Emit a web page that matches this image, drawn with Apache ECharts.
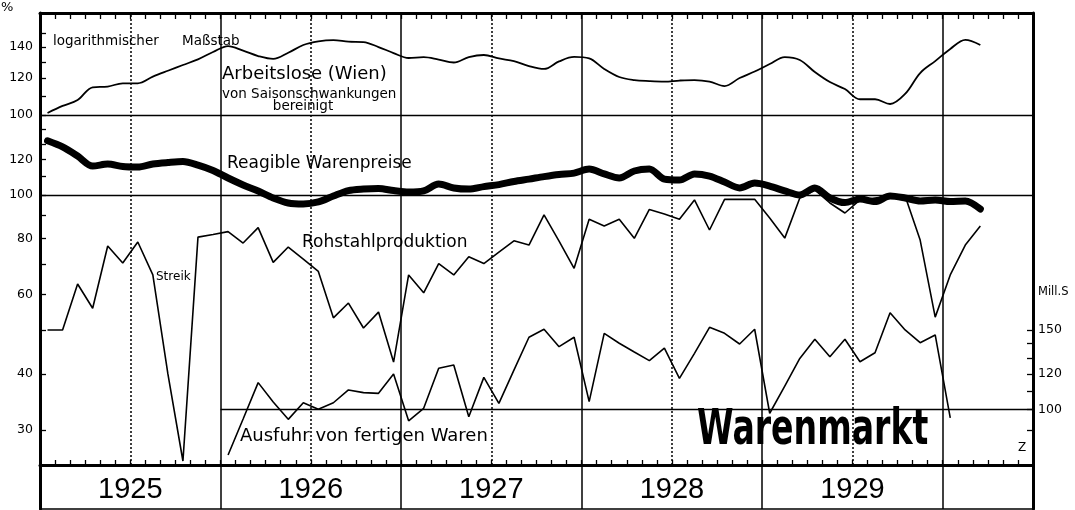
<!DOCTYPE html>
<html><head><meta charset="utf-8">
<script src="https://cdn.jsdelivr.net/npm/echarts@6/dist/echarts.min.js"></script>
<style>html,body{margin:0;padding:0;background:#fff}#c{width:1075px;height:510px}</style>
</head><body><div id="c"></div>
<script>
// ---- data (monthly, Jan 1925 onward) ----
const years = ['1925', '1926', '1927', '1928', '1929'];
const monthCount = 66; // Jan 1925 .. Jun 1930

// Arbeitslose (Wien), von Saisonschwankungen bereinigt (%)
const arbeitslose = [101, 104.6, 107.7, 114.7, 115.1, 117, 117, 120.9, 124.5, 128.1, 131.7, 136.6,
  140.7, 137.5, 133.9, 132, 136.1, 141.4, 144, 144.9, 143.8, 143.5, 140, 135.9,
  132.6, 133.2, 131.6, 129.7, 133.2, 134.6, 132.3, 130.6, 127.4, 125.6, 130.4, 133.3,
  132.3, 125.6, 120.7, 118.9, 118.3, 118, 118.6, 118.9, 118, 115.4, 120.1, 124,
  128.7, 133.2, 131.3, 123.7, 117.7, 113.7, 108.1, 108.1, 105.6, 111, 123.1, 130.6,
  138.7, 145, 141.4];

// Reagible Warenpreise (%)
const warenpreise = [132, 127.9, 122.1, 116, 117.2, 115.7, 115.4, 117.2, 118.1, 118.7, 116.6, 113.4,
  109.1, 105.3, 102.1, 98.5, 96, 95.5, 96.5, 99.5, 102.3, 103.1, 103.4, 102.3,
  101.5, 102.1, 105.8, 103.7, 103.1, 104.4, 105.5, 107.2, 108.5, 109.9, 111.1, 111.9,
  114.2, 111.4, 109.1, 113.1, 114.2, 108.5, 108, 111.4, 110.2, 106.9, 103.7, 106.3,
  104.7, 102.1, 100, 103.7, 98.5, 96.2, 98, 96.7, 99.5, 98.5, 97, 97.5,
  96.7, 97, 93.1];

// Rohstahlproduktion (%)
const rohstahl = [50.1, 50.1, 63.4, 56, 77, 70.6, 78.6, 66.4, 40, 25.6, 80.6, 81.7,
  82.9, 78.2, 84.6, 70.8, 76.6, 72, 67.6, 53.3, 57.5, 50.6, 54.9, 42.5,
  66.4, 60.6, 70.4, 66.4, 72.9, 70.4, 74.6, 79.1, 77.4, 90.3, 79, 68.7,
  88.3, 85.3, 88.3, 80.1, 92.9, 90.7, 88.3, 97.5, 83.6, 97.8, 97.8, 97.8,
  88.9, 80.2, 98.5, 102.6, 96, 91.2, 97.5, 98.5, 99.5, 99.5, 79.4, 53.5,
  66.4, 77.4, 85.3];

// Ausfuhr von fertigen Waren (Mill. S)
const ausfuhr = [null, null, null, null, null, null, null, null, null, null, null, null,
  79.3, 95.3, 114.7, 103.9, 95.1, 103.5, 100.1, 103.5, 110.5, 109, 108.6, 119.9,
  94.4, 100.6, 123.4, 125.5, 96.4, 117.8, 103.2, 122.3, 144.6, 150.6, 137.8, 144.6,
  104.1, 147.5, 140.2, 134.1, 128.3, 136.7, 117.2, 133.2, 152.1, 147.5, 139.7, 150.6,
  98.1, 112.7, 129.8, 143.1, 130.9, 143.1, 127.6, 133.6, 163.9, 150.1, 140.6, 146.3,
  95.8];

// tick / label values of the log scales
const leftLowerTicks = [30, 40, 50, 60, 70, 80, 90, 100, 110, 120, 130, 140];
const leftLowerLabels = [30, 40, 60, 80, 100, 120];
const leftUpperTicks = [100, 110, 120, 130, 140, 150];
const leftUpperLabels = [100, 120, 140];
const rightTicks = [90, 100, 110, 120, 130, 140, 150];
const rightLabels = [100, 120, 150];

// axis ranges
const lowerRange = [25.08, 254.1];
const upperRange = [17.68, 165.7];
const rightRange = [75.34, 756.1];

// ---- build ----
const toPairs = arr => arr.map((v, i) => v == null ? null : [i + 0.5, v]).filter(p => p);
const yearBounds = years.map((y, k) => 12 * (k + 1));
const yearMids = years.map((y, k) => 12 * k + 6);
const FONT = 'DejaVu Sans';

function logOverlay(range, ticks, labels, position, showLine) {
  return {
    type: 'value', gridIndex: 0, position: position,
    min: Math.log10(range[0]), max: Math.log10(range[1]),
    axisLine: { show: showLine, onZero: false, lineStyle: { color: '#000', width: 3 } },
    axisTick: { show: true, inside: true, length: 6, customValues: ticks.map(Math.log10),
      lineStyle: { color: '#000', width: 1.3 } },
    axisLabel: { show: true, customValues: labels.map(Math.log10),
      formatter: v => String(Math.round(Math.pow(10, v))),
      color: '#000', fontFamily: FONT, fontSize: 12.5, margin: position === 'left' ? 7 : 5 },
    splitLine: { show: false }
  };
}
function logAxis(range, position) {
  return { type: 'log', logBase: 10, gridIndex: 0, position: position, min: range[0], max: range[1], show: false };
}

const lineBase = { type: 'line', symbol: 'none', xAxisIndex: 0, animation: false, silent: true };

const option = {
  backgroundColor: '#fff',
  animation: false,
  grid: [
    { left: 40, right: 42, top: 13, bottom: 45, containLabel: false, outerBoundsMode: 'none' },
    { left: 40, right: 42, top: 465, bottom: 1, containLabel: false, outerBoundsMode: 'none' }
  ],
  xAxis: [
    { type: 'value', gridIndex: 0, min: 0, max: monthCount, interval: 1, position: 'bottom',
      axisLine: { show: true, onZero: false, lineStyle: { color: '#000', width: 3 } },
      axisTick: { show: true, inside: true, length: 5, lineStyle: { color: '#000', width: 1.3 } },
      axisLabel: { show: false }, splitLine: { show: false } },
    { type: 'value', gridIndex: 0, min: 0, max: monthCount, interval: 1, position: 'top',
      axisLine: { show: true, onZero: false, lineStyle: { color: '#000', width: 3 } },
      axisTick: { show: true, inside: true, length: 6, lineStyle: { color: '#000', width: 1.3 } },
      axisLabel: { show: false }, splitLine: { show: false } },
    { type: 'value', gridIndex: 1, min: 0, max: monthCount, interval: 12, position: 'bottom',
      axisLine: { show: true, onZero: false, lineStyle: { color: '#000', width: 1.5 } },
      axisTick: { show: false },
      axisLabel: { show: true, inside: true, margin: 5, customValues: yearMids,
        formatter: v => years[Math.round((v - 6) / 12)] || '',
        color: '#000', fontFamily: 'Liberation Sans', fontSize: 29 },
      splitLine: { show: true, lineStyle: { color: '#000', width: 1.5 } } }
  ],
  yAxis: [
    logAxis(lowerRange, 'left'),
    logAxis(upperRange, 'left'),
    logAxis(rightRange, 'right'),
    logOverlay(lowerRange, leftLowerTicks, leftLowerLabels, 'left', true),
    logOverlay(upperRange, leftUpperTicks, leftUpperLabels, 'left', false),
    logOverlay(rightRange, rightTicks, rightLabels, 'right', true),
    { type: 'value', gridIndex: 1, position: 'left', axisLine: { show: true, onZero: false, lineStyle: { color: '#000', width: 3 } },
      axisTick: { show: false }, axisLabel: { show: false }, splitLine: { show: false } },
    { type: 'value', gridIndex: 1, position: 'right', axisLine: { show: true, onZero: false, lineStyle: { color: '#000', width: 3 } },
      axisTick: { show: false }, axisLabel: { show: false }, splitLine: { show: false } }
  ],
  series: [
    Object.assign({}, lineBase, {
      name: 'Arbeitslose (Wien)', yAxisIndex: 1, data: toPairs(arbeitslose), smooth: 0.35,
      lineStyle: { color: '#000', width: 1.8 },
      markLine: { silent: true, symbol: ['none', 'none'], label: { show: false }, animation: false,
        data: [{ yAxis: 100, lineStyle: { color: '#000', type: 'solid', width: 1.4 } }]
          .concat(yearBounds.map(x => ({ xAxis: x, lineStyle: { color: '#000', type: 'solid', width: 1.5 } })))
          .concat(yearMids.map(x => ({ xAxis: x, lineStyle: { color: '#000', type: [2, 2], width: 1.5 } }))) }
    }),
    Object.assign({}, lineBase, {
      name: 'Rohstahlproduktion', yAxisIndex: 0, data: toPairs(rohstahl),
      lineStyle: { color: '#000', width: 1.6 }
    }),
    Object.assign({}, lineBase, {
      name: 'Ausfuhr von fertigen Waren', yAxisIndex: 2, data: toPairs(ausfuhr),
      lineStyle: { color: '#000', width: 1.6 },
      markLine: { silent: true, symbol: ['none', 'none'], label: { show: false }, animation: false,
        data: [[{ coord: [12, 100] }, { coord: [monthCount, 100] }]],
        lineStyle: { color: '#000', type: 'solid', width: 1.4 } }
    }),
    Object.assign({}, lineBase, {
      name: 'Reagible Warenpreise', yAxisIndex: 0, data: toPairs(warenpreise), smooth: 0.3,
      lineStyle: { color: '#000', width: 7, cap: 'round', join: 'round' },
      markLine: { silent: true, symbol: ['none', 'none'], label: { show: false }, animation: false,
        data: [{ yAxis: 100 }], lineStyle: { color: '#000', type: 'solid', width: 1.4 } }
    })
  ],
  graphic: { elements: [
    { type: 'text', x: 1, y: 1, style: { text: '%', fontSize: 13, fontFamily: FONT, fill: '#000' } },
    { type: 'text', x: 53, y: 34, style: { text: 'logarithmischer', fontSize: 13.5, fontFamily: FONT, fill: '#000' } },
    { type: 'text', x: 182, y: 34, style: { text: 'Maßstab', fontSize: 13.5, fontFamily: FONT, fill: '#000' } },
    { type: 'text', x: 222, y: 65, style: { text: 'Arbeitslose (Wien)', fontSize: 18, fontFamily: FONT, fill: '#000' } },
    { type: 'text', x: 222, y: 87, style: { text: 'von Saisonschwankungen', fontSize: 13.5, fontFamily: FONT, fill: '#000' } },
    { type: 'text', x: 303, y: 99, style: { text: 'bereinigt', fontSize: 13.5, fontFamily: FONT, fill: '#000', align: 'center' } },
    { type: 'text', x: 227, y: 155, style: { text: 'Reagible Warenpreise', fontSize: 17, fontFamily: FONT, fill: '#000' } },
    { type: 'text', x: 302, y: 234, style: { text: 'Rohstahlproduktion', fontSize: 17, fontFamily: FONT, fill: '#000' } },
    { type: 'text', x: 156, y: 271, style: { text: 'Streik', fontSize: 12, fontFamily: FONT, fill: '#000' } },
    { type: 'text', x: 240, y: 427, style: { text: 'Ausfuhr von fertigen Waren', fontSize: 18, fontFamily: FONT, fill: '#000' } },
    { type: 'text', x: 697, y: 406, scaleX: 0.663, style: { text: 'Warenmarkt', fontSize: 50, fontWeight: 'bold', fontFamily: FONT, fill: '#000' } },
    { type: 'text', x: 1038, y: 286, style: { text: 'Mill.S', fontSize: 11.5, fontFamily: FONT, fill: '#000' } },
    { type: 'text', x: 1018, y: 442, style: { text: 'Z', fontSize: 12, fontFamily: FONT, fill: '#000' } }
  ] }
};

const chart = echarts.init(document.getElementById('c'), null, { renderer: 'canvas' });
chart.setOption(option);
</script>
</body></html>
